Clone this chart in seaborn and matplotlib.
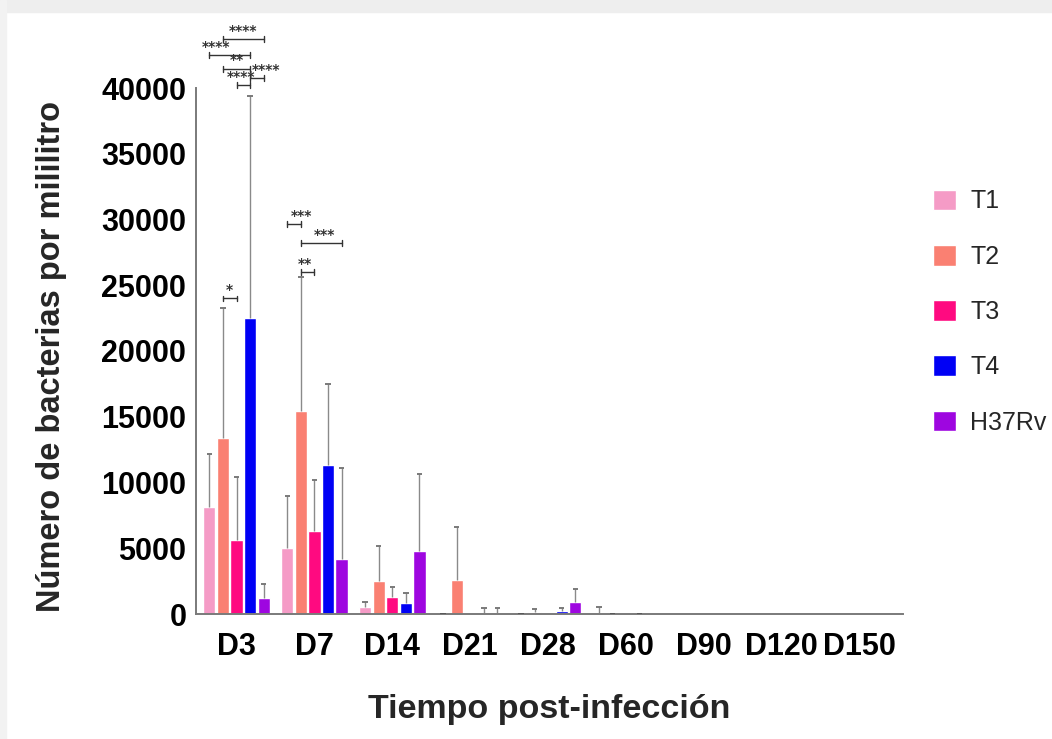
import numpy as np
import pandas as pd
import seaborn as sns
import matplotlib
matplotlib.use("Agg")
import matplotlib.pyplot as plt
from matplotlib.patches import Rectangle

nan = np.nan
days = ["D3", "D7", "D14", "D21", "D28", "D60", "D90", "D120", "D150"]
series = ["T1", "T2", "T3", "T4", "H37Rv"]
colors = ["#F59BC6", "#FA8072", "#FF0A80", "#0000F5", "#9E06E0"]

t1_mean = [8150, 5000, 550, 0, 0, 100, nan, nan, nan]
t1_sd = [4000, 4000, 400, 0, 0, 400, nan, nan, nan]
t2_mean = [13350, 15400, 2530, 2550, 150, 0, nan, nan, nan]
t2_sd = [9900, 10200, 2660, 4090, 200, 0, nan, nan, nan]
t3_mean = [5650, 6300, 1270, nan, nan, nan, nan, nan, nan]
t3_sd = [4750, 3900, 760, nan, nan, nan, nan, nan, nan]
t4_mean = [22500, 11300, 840, 100, 250, 0, nan, nan, nan]
t4_sd = [16900, 6200, 790, 330, 180, 0, nan, nan, nan]
h37_mean = [1200, 4150, 4810, 80, 950, nan, nan, nan, nan]
h37_sd = [1050, 6950, 5840, 340, 950, nan, nan, nan, nan]

means = [t1_mean, t2_mean, t3_mean, t4_mean, h37_mean]
sds = [t1_sd, t2_sd, t3_sd, t4_sd, h37_sd]

# significance brackets: (day, series a, series b, height, label, label shift)
sig_day = ["D3", "D3", "D3", "D3", "D3", "D3", "D7", "D7", "D7"]
sig_a = ["T2", "T1", "T2", "T4", "T3", "T2", "T1", "T2", "T2"]
sig_b = ["H37Rv", "T4", "T4", "H37Rv", "T4", "T3", "T2", "H37Rv", "T3"]
sig_y = [43700, 42500, 41450, 40750, 40200, 24000, 29650, 28200, 26000]
sig_lab = ["****", "****", "**", "****", "****", "*", "***", "***", "**"]
sig_dx = [0.0, -0.17, 0.0, 0.115, -0.03, 0.0, 0.09, 0.04, -0.04]

rows = []
for s, m in zip(series, means):
    for d, v in zip(days, m):
        rows.append({"day": d, "grupo": s, "value": 0.0 if np.isnan(v) else v})
df = pd.DataFrame(rows)

sns.set_theme(style="white")
plt.rcParams["font.family"] = ["Liberation Sans", "DejaVu Sans"]

fig = plt.figure(figsize=(10.52, 7.39), dpi=100)
fig.patches.append(Rectangle((0, 1 - 12 / 739), 1, 12 / 739, transform=fig.transFigure,
                             color="#eeeeee", zorder=-10))
fig.patches.append(Rectangle((0, 0), 6 / 1052, 1, transform=fig.transFigure,
                             color="#f2f2f2", zorder=-10))
ax = fig.add_axes([196 / 1052, 1 - 614 / 739, 707 / 1052, 526 / 739])

sns.barplot(data=df, x="day", y="value", hue="grupo", order=days, hue_order=series,
            palette=colors, errorbar=None, width=0.87, gap=0.1, saturation=1,
            ax=ax, legend=True)

capw = 0.035
centers = {}
for s, cont, m, sd in zip(series, ax.containers, means, sds):
    for d, bar, v, e in zip(days, cont, m, sd):
        xc = bar.get_x() + bar.get_width() / 2
        centers[(d, s)] = xc
        if np.isnan(v) or np.isnan(e):
            continue
        if e > 0:
            ax.vlines(xc, v, v + e, color="#8a8a8a", lw=1.0, zorder=1)
        ax.hlines(v + e, xc - capw, xc + capw, color="#707070" if e > 0 else "#555555",
                  lw=1.3, zorder=4)

for d, a, b, y, lab, dx in zip(sig_day, sig_a, sig_b, sig_y, sig_lab, sig_dx):
    x1, x2 = centers[(d, a)], centers[(d, b)]
    ax.plot([x1, x2], [y, y], color="#333333", lw=1.0, clip_on=False)
    ax.plot([x1, x1], [y - 220, y + 220], color="#333333", lw=1.0, clip_on=False)
    ax.plot([x2, x2], [y - 220, y + 220], color="#333333", lw=1.0, clip_on=False)
    ax.text((x1 + x2) / 2 + dx, y + 120, lab, ha="center", va="bottom", fontsize=10,
            fontweight="bold", color="#333333", clip_on=False, family="DejaVu Sans")

ax.set_ylim(0, 40000)
ax.set_xlim(-0.52, 8.555)
ax.set_yticks(range(0, 40001, 5000))
ax.set_yticklabels([str(v) for v in range(0, 40001, 5000)])
sns.despine(ax=ax)
for sp in ["left", "bottom"]:
    ax.spines[sp].set_color("#7a7a7a")
    ax.spines[sp].set_linewidth(1.4)
ax.tick_params(axis="both", direction="out", length=5, width=1.2, color="#7a7a7a",
               labelsize=22, labelcolor="black")
ax.tick_params(axis="y", pad=2)
ax.tick_params(axis="x", pad=8)
for lbl in ax.get_xticklabels() + ax.get_yticklabels():
    lbl.set_fontweight("bold")

ax.set_ylabel("Número de bacterias por mililitro", fontsize=23.5, fontweight="bold")
ax.yaxis.set_label_coords(-0.182, 0.49)
ax.set_xlabel("Tiempo post-infección", fontsize=24.5, fontweight="bold")
ax.xaxis.set_label_coords(0.5, -0.152)
ax.xaxis.label.set_va("top")

leg = ax.legend(loc="center left", bbox_to_anchor=(933 / 1052, 1 - 312 / 739),
                bbox_transform=fig.transFigure, frameon=False, fontsize=18,
                handlelength=0.9, handleheight=0.9, handletextpad=0.6,
                labelspacing=1.25, borderpad=0, borderaxespad=0)

fig.savefig("out.png", dpi=100, facecolor="white")
